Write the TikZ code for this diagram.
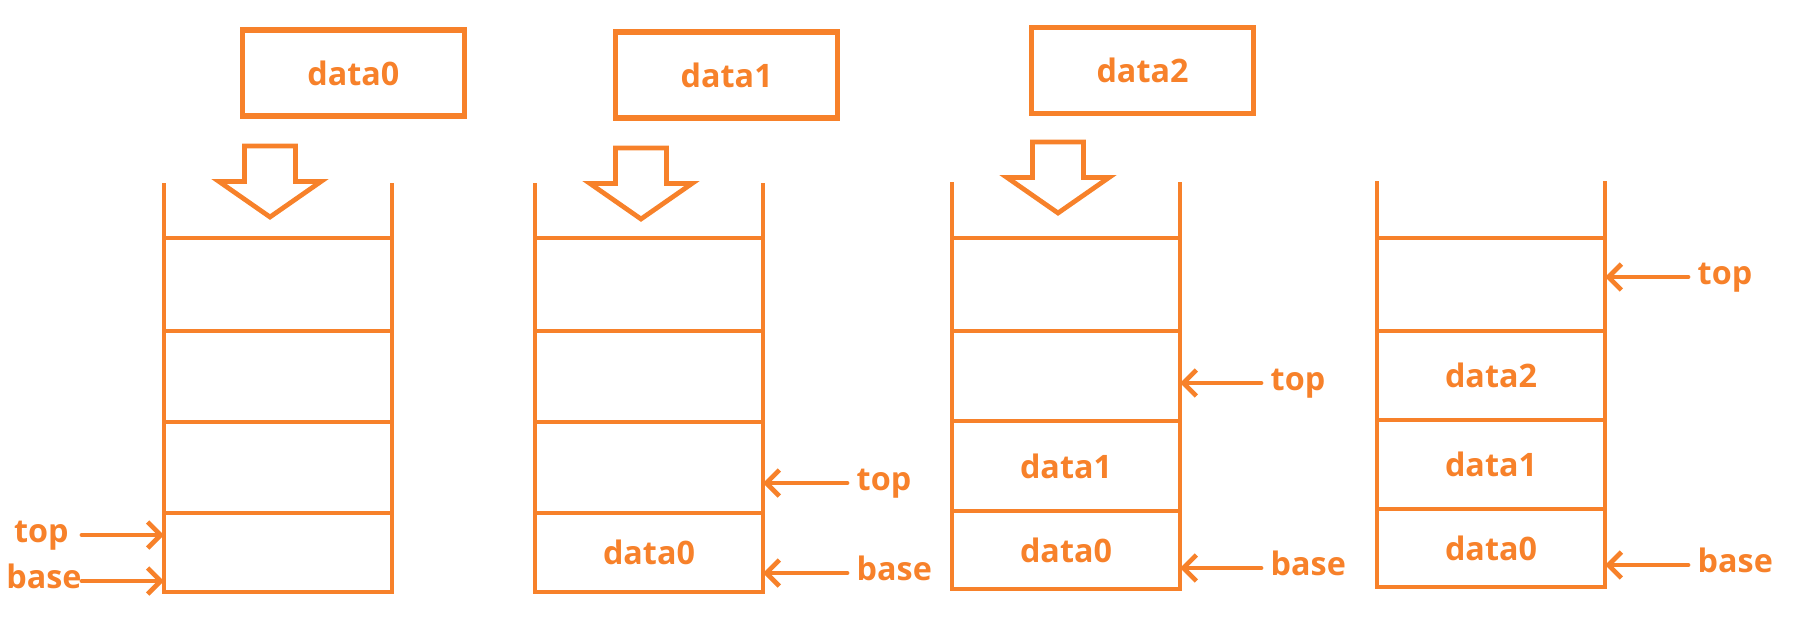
\documentclass[tikz,border=0pt]{standalone}
\usepackage{fontspec}
\setmainfont{Open Sans}
\usetikzlibrary{arrows.meta,positioning,calc}
\definecolor{stk}{RGB}{247,129,42}

\begin{document}
\begin{tikzpicture}[
    font=\fontsize{9.2}{11}\selectfont\bfseries,
    every node/.style={text=stk},
    box/.style={draw=stk, line width=1.5pt, minimum width=2.22cm, minimum height=0.86cm, inner sep=0pt},
    cell/.style={draw=stk, line width=1.35pt, minimum width=2.28cm, inner sep=0pt, outer sep=0pt},
    wall/.style={stk, line width=1.35pt},
    lbl/.style={inner xsep=0.9mm, inner ysep=0pt, text height=6.5pt, text depth=2.2pt},
    lblL/.style={lbl, text width=7mm, align=center, inner xsep=0.5mm},
    ptr/.style={stk, line width=1.35pt, line cap=round, -{Straight Barb[length=1.3mm,width=2.6mm]}},
    push/.pic={\draw[stk, line width=1.35pt] (0,0) -- (-0.51,0.355) -- (-0.255,0.355) -- (-0.255,0.71)
      -- (0.255,0.71) -- (0.255,0.355) -- (0.51,0.355) -- cycle;}
  ]
  \useasboundingbox (0,0) rectangle (17.96,-6.23);

  % Incoming data
  \node[box] (in0) at (3.533,-0.73) {data0};
  \node[box] (in1) at (7.267,-0.75) {data1\hspace{0.27cm}};
  \node[box] (in2) at (11.425,-0.707) {data2\hspace{0.19cm}};

  % Stack 1
  \node[cell, minimum height=9.3mm, anchor=north west] (s1c4) at (1.64,-2.38) {};
  \node[cell, minimum height=9.1mm, below=0pt of s1c4] (s1c3) {};
  \node[cell, minimum height=9.1mm, below=0pt of s1c3] (s1c2) {};
  \node[cell, minimum height=7.9mm, below=0pt of s1c2] (s1c1) {};

  % Stack 2
  \node[cell, minimum height=9.3mm, anchor=north west] (s2c4) at (5.35,-2.38) {};
  \node[cell, minimum height=9.1mm, below=0pt of s2c4] (s2c3) {};
  \node[cell, minimum height=9.1mm, below=0pt of s2c3] (s2c2) {};
  \node[cell, minimum height=7.9mm, below=0pt of s2c2] (s2c1) {data0};

  % Stack 3
  \node[cell, minimum height=9.3mm, anchor=north west] (s3c4) at (9.52,-2.38) {};
  \node[cell, minimum height=9.0mm, below=0pt of s3c4] (s3c3) {};
  \node[cell, minimum height=9.0mm, below=0pt of s3c3] (s3c2) {data1};
  \node[cell, minimum height=7.8mm, below=0pt of s3c2] (s3c1) {data0};

  % Stack 4
  \node[cell, minimum height=9.3mm, anchor=north west] (s4c4) at (13.77,-2.38) {};
  \node[cell, minimum height=8.9mm, below=0pt of s4c4] (s4c3) {data2};
  \node[cell, minimum height=8.9mm, below=0pt of s4c3] (s4c2) {data1};
  \node[cell, minimum height=7.8mm, below=0pt of s4c2] (s4c1) {data0};

  % Open walls
  \draw[wall] (s1c4.north west) -- ++(0,0.55);
  \draw[wall] (s1c4.north east) -- ++(0,0.55);
  \draw[wall] (s2c4.north west) -- ++(0,0.55);
  \draw[wall] (s2c4.north east) -- ++(0,0.55);
  \draw[wall] (s3c4.north west) -- ++(0,0.56);
  \draw[wall] (s3c4.north east) -- ++(0,0.56);
  \draw[wall] (s4c4.north west) -- ++(0,0.57);
  \draw[wall] (s4c4.north east) -- ++(0,0.57);

  % Push arrows
  \pic at ($(s1c4.north)+(-0.08,0.21)$) {push};
  \pic at ($(s2c4.north)+(-0.08,0.19)$) {push};
  \pic at ($(s3c4.north)+(-0.08,0.25)$) {push};

  % top / base pointers
  \node[lblL, anchor=east] (s1top) at (0.82,-5.35) {top};
  \node[lblL, anchor=east] (s1base) at (0.82,-5.81) {base};
  \draw[ptr] (s1top.east) -- (s1top.east -| s1c1.west);
  \draw[ptr] (s1base.east) -- (s1base.east -| s1c1.west);

  \node[lbl, anchor=west] (s2top) at (8.47,-4.83) {top};
  \node[lbl, anchor=west] (s2base) at (8.47,-5.73) {base};
  \draw[ptr] (s2top.west) -- (s2top.west -| s2c2.east);
  \draw[ptr] (s2base.west) -- (s2base.west -| s2c1.east);

  \node[lbl, anchor=west] (s3top) at (12.61,-3.83) {top};
  \node[lbl, anchor=west] (s3base) at (12.61,-5.68) {base};
  \draw[ptr] (s3top.west) -- (s3top.west -| s3c3.east);
  \draw[ptr] (s3base.west) -- (s3base.west -| s3c1.east);

  \node[lbl, anchor=west] (s4top) at (16.88,-2.77) {top};
  \node[lbl, anchor=west] (s4base) at (16.88,-5.65) {base};
  \draw[ptr] (s4top.west) -- (s4top.west -| s4c4.east);
  \draw[ptr] (s4base.west) -- (s4base.west -| s4c1.east);

\end{tikzpicture}
\end{document}
